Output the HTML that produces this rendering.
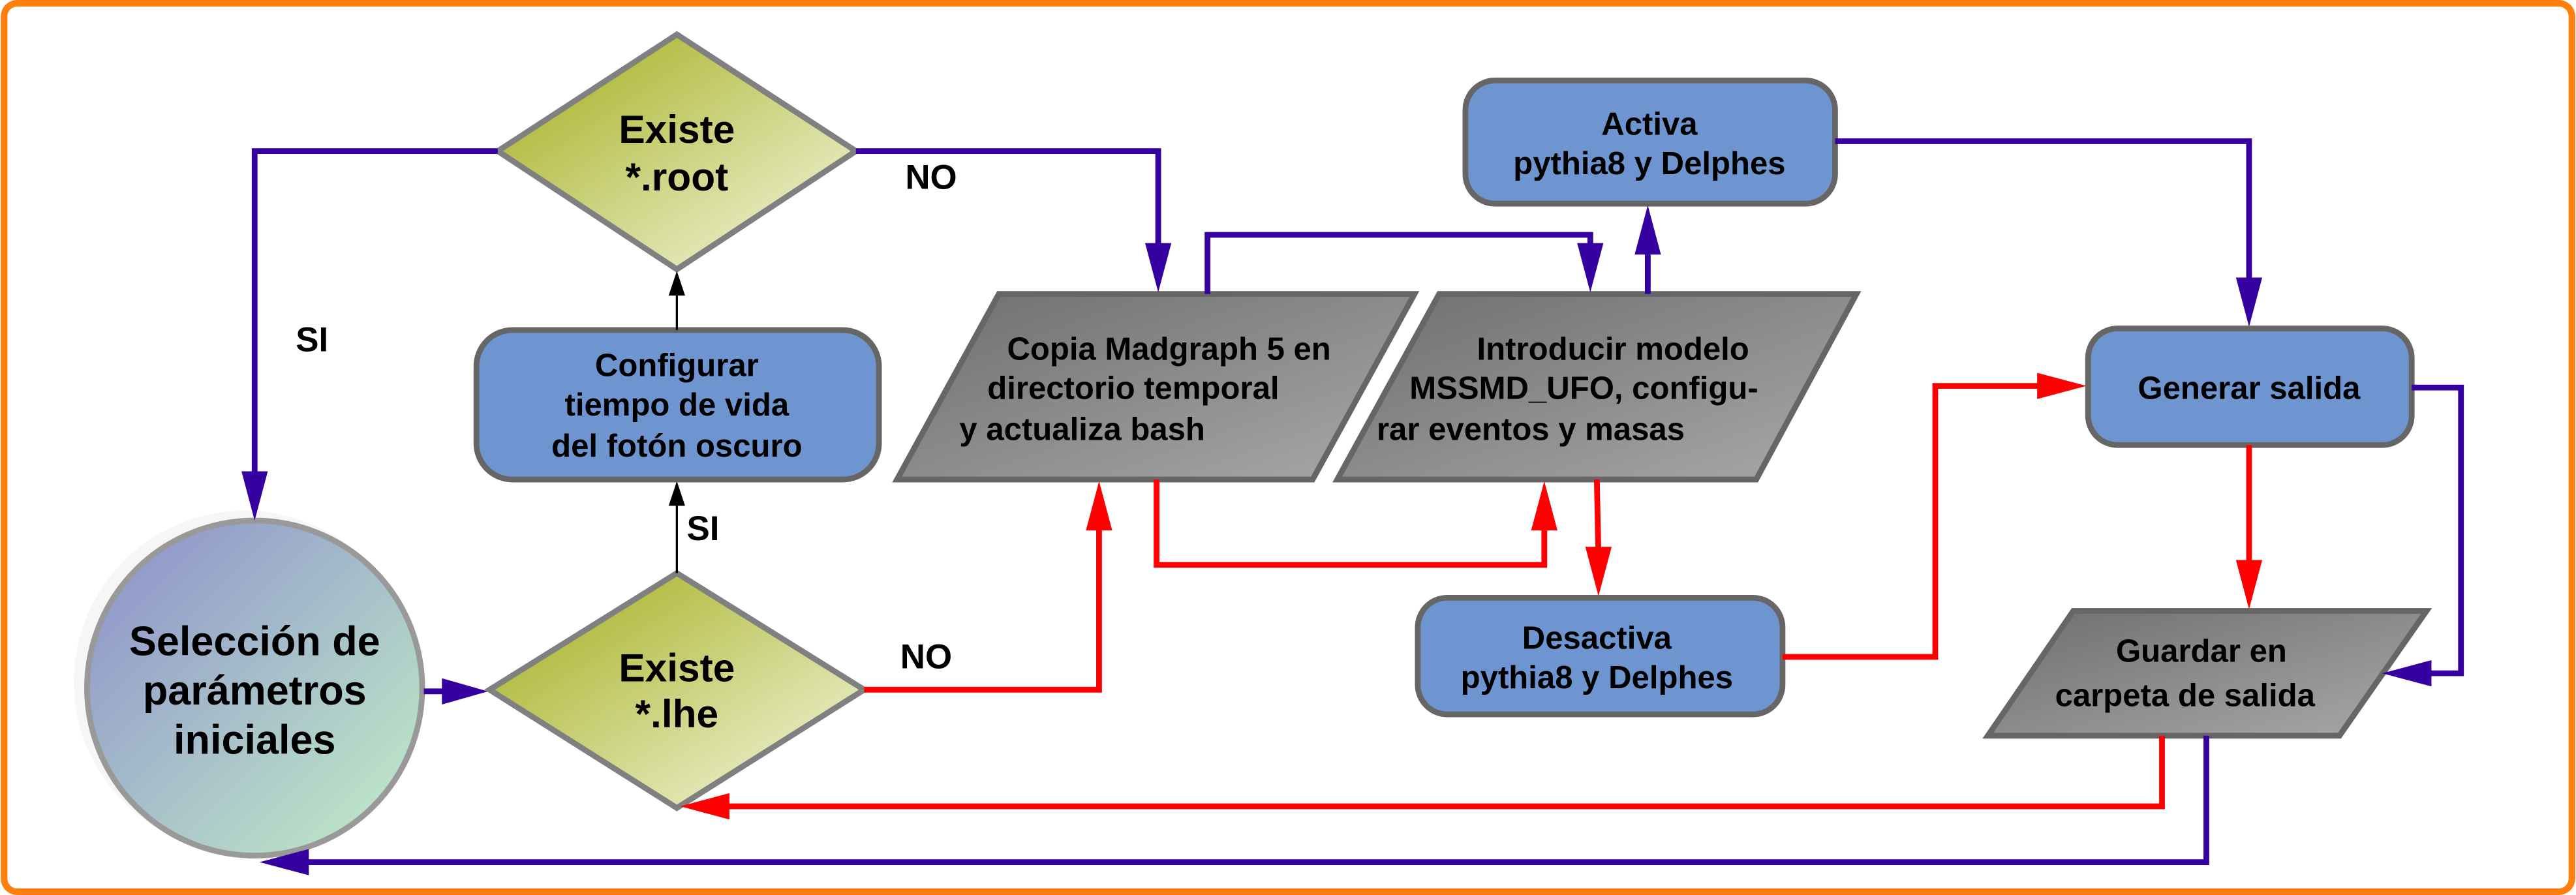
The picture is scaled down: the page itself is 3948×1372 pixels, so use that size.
<!DOCTYPE html>
<html><head><meta charset="utf-8"><style>
html,body{margin:0;padding:0;background:#fff;}
svg{display:block;}
text{font-family:"Liberation Sans",sans-serif;font-weight:bold;fill:#000;}
</style></head><body>
<svg width="3948" height="1372" viewBox="0 0 1568 545" preserveAspectRatio="none" xmlns="http://www.w3.org/2000/svg">
<defs>
<linearGradient id="dia" x1="0" y1="0" x2="1" y2="1"><stop offset="0.2" stop-color="#b2bb40"/><stop offset="0.85" stop-color="#e9edc6"/></linearGradient>
<linearGradient id="par" x1="0" y1="0" x2="1" y2="1"><stop offset="0" stop-color="#6e6e6e"/><stop offset="1" stop-color="#a9a9a9"/></linearGradient>
<linearGradient id="cir" x1="0" y1="0" x2="1" y2="1"><stop offset="0.1" stop-color="#9097cb"/><stop offset="0.9" stop-color="#bde6c8"/></linearGradient>
</defs>
<rect x="2.5" y="2" width="1563" height="541" rx="8" fill="#fff" stroke="#ff7f0e" stroke-width="4"/>

<circle cx="149" cy="415" r="104" fill="#f6f6f6"/>
<circle cx="155" cy="419" r="102" fill="url(#cir)" stroke="#999" stroke-width="3.5"/>
<text font-size="25" text-anchor="middle" x="155" y="399">Selección de</text>
<text font-size="25" text-anchor="middle" x="155" y="429">parámetros</text>
<text font-size="25" text-anchor="middle" x="155" y="459">iniciales</text>

<polygon points="412,21 521,92 412,164 303,92" fill="url(#dia)" stroke="#808080" stroke-width="3.5"/>
<text font-size="24" text-anchor="middle" x="412" y="87">Existe</text>
<text font-size="24" text-anchor="middle" x="412" y="116">*.root</text>
<polygon points="412,349 526,420 412,492 298,420" fill="url(#dia)" stroke="#808080" stroke-width="3.5"/>
<text font-size="24" text-anchor="middle" x="412" y="415">Existe</text>
<text font-size="24" text-anchor="middle" x="412" y="443">*.lhe</text>

<rect x="290" y="201" width="245" height="91" rx="22" fill="#6f95d0" stroke="#666" stroke-width="3.5"/>
<text font-size="19.5" text-anchor="middle" x="412" y="229">Configurar</text>
<text font-size="19.5" text-anchor="middle" x="412" y="253">tiempo de vida</text>
<text font-size="19.5" text-anchor="middle" x="412" y="278">del fotón oscuro</text>

<rect x="892" y="49" width="225" height="75" rx="18" fill="#6f95d0" stroke="#666" stroke-width="3.5"/>
<text font-size="19.5" text-anchor="middle" x="1004" y="82">Activa</text>
<text font-size="19.5" text-anchor="middle" x="1004" y="106">pythia8 y Delphes</text>

<rect x="863" y="364" width="222" height="71" rx="18" fill="#6f95d0" stroke="#666" stroke-width="3.5"/>
<text font-size="19.5" text-anchor="middle" x="972" y="395">Desactiva</text>
<text font-size="19.5" text-anchor="middle" x="972" y="419">pythia8 y Delphes</text>

<rect x="1271" y="200" width="197" height="71" rx="18" fill="#6f95d0" stroke="#666" stroke-width="3.5"/>
<text font-size="19.5" text-anchor="middle" x="1369" y="243">Generar salida</text>

<polygon points="608,179 861,179 799,292 546,292" fill="url(#par)" stroke="#666" stroke-width="3.5"/>
<text font-size="19.5" x="613" y="219">Copia Madgraph 5 en</text>
<text font-size="19.5" x="601" y="243">directorio temporal</text>
<text font-size="19.5" x="584" y="268">y actualiza bash</text>

<polygon points="876,179 1130,179 1069,292 814,292" fill="url(#par)" stroke="#666" stroke-width="3.5"/>
<text font-size="19.5" x="899" y="219">Introducir modelo</text>
<text font-size="19.5" x="858" y="243">MSSMD_UFO, configu-</text>
<text font-size="19.5" x="838" y="268">rar eventos y masas</text>

<polygon points="1262,372 1477,372 1424,448 1210,448" fill="url(#par)" stroke="#666" stroke-width="3.5"/>
<text font-size="19.5" text-anchor="middle" x="1340" y="403">Guardar en</text>
<text font-size="19.5" text-anchor="middle" x="1330" y="430">carpeta de salida</text>

<g fill="none" stroke="#35009f" stroke-width="3.5">
<polyline points="303,92 155,92 155,295"/>
<polyline points="521,92 705,92 705,155"/>
<polyline points="735,179 735,143 968,143 968,155"/>
<polyline points="1003,179 1003,145"/>
<polyline points="1117,86 1369,86 1369,175"/>
<polyline points="1468,236 1498,236 1498,410 1472,410"/>
<polyline points="258,421 275,421"/>
<polyline points="1343,448 1343,525 180,525"/>
</g>
<g fill="#35009f">
<polygon points="147,287 163,287 155,317"/>
<polygon points="697,148 713,148 705,178"/>
<polygon points="960,148 976,148 968,178"/>
<polygon points="995,155 1011,155 1003,125"/>
<polygon points="1361,169 1377,169 1369,199"/>
<polygon points="1480,402 1480,418 1450,410"/>
<polygon points="269,413 269,429 297,421"/>
<polygon points="188,517 188,533 158,525"/>
</g>
<g fill="none" stroke="#ff0000" stroke-width="3.5">
<polyline points="526,420 669,420 669,315"/>
<polyline points="704,292 704,344 940,344 940,315"/>
<polyline points="972,292 973,340"/>
<polyline points="1085,400 1178,400 1178,235 1245,235"/>
<polyline points="1369,271 1369,348"/>
<polyline points="1316,448 1316,491 438,491"/>
</g>
<g fill="#ff0000">
<polygon points="661,323 677,323 669,293"/>
<polygon points="932,323 948,323 940,293"/>
<polygon points="965,333 981,333 973,363"/>
<polygon points="1240,227 1240,243 1270,235"/>
<polygon points="1361,341 1377,341 1369,371"/>
<polygon points="444,483 444,499 414,491"/>
</g>
<g fill="none" stroke="#000" stroke-width="1.3">
<line x1="412" y1="201" x2="412" y2="175"/>
<line x1="412" y1="349" x2="412" y2="303"/>
</g>
<g fill="#000">
<polygon points="407,180 417,180 412,165"/>
<polygon points="407,308 417,308 412,293"/>
</g>
<text font-size="21" x="180" y="214">SI</text>
<text font-size="21" x="418" y="329">SI</text>
<text font-size="21" x="551" y="115">NO</text>
<text font-size="21" x="548" y="407">NO</text>
</svg>
</body></html>
